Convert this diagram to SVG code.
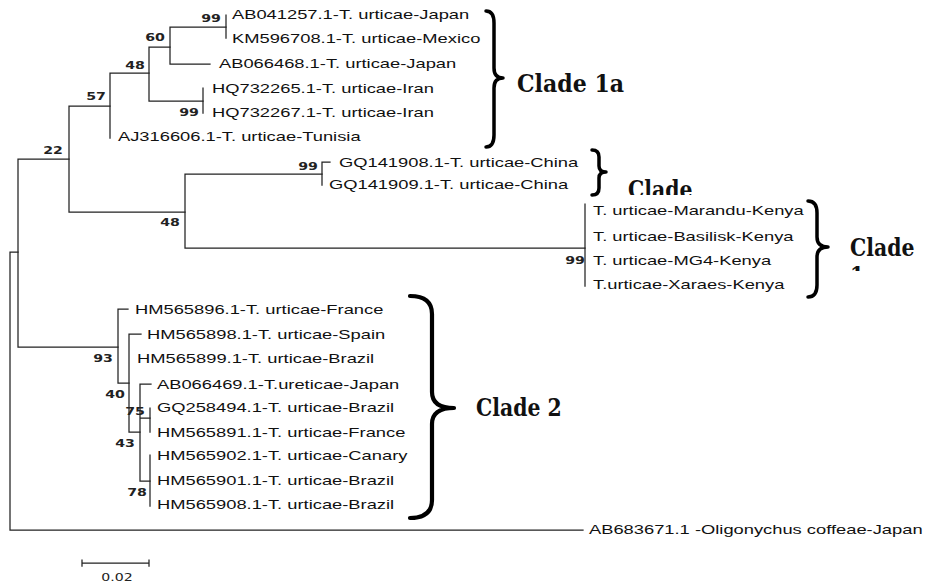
<svg xmlns="http://www.w3.org/2000/svg" width="937" height="583" viewBox="0 0 937 583">
  <style>
    .br { stroke: #222; stroke-width: 1.25; fill: none; stroke-linecap: square; }
    .lab { font-family: "Liberation Sans", Arial, sans-serif; font-size: 13px; fill: #111; }
    .bs { font-family: "DejaVu Sans", Verdana, sans-serif; font-size: 10.5px; font-weight: bold; fill: #222; text-anchor: middle; }
    .brace { stroke: #000; fill: none; stroke-linecap: round; stroke-linejoin: round; }
    .clade { font-family: "DejaVu Serif", "Liberation Serif", serif; font-size: 24px; font-weight: bold; fill: #111; }
    .scale { font-family: "DejaVu Sans", Verdana, sans-serif; font-size: 10px; fill: #222; text-anchor: middle; }
  </style>
  <defs>
    <clipPath id="cut1b"><rect x="600" y="150" width="140" height="45"/></clipPath>
    <clipPath id="cut1c"><rect x="840" y="200" width="97" height="71"/></clipPath>
  </defs>
  <rect width="937" height="583" fill="#fff"/>

  <!-- branches -->
  <g id="connectors" class="br">
    <!-- root and outgroup -->
    <path d="M10 252 V530 H583 M10 252 H18"/>
    <path d="M18 159 V347 M18 159 H69 M18 347 H118"/>
    <!-- clade 1 -->
    <path d="M69 106 V212 M69 106 H110 M69 212 H185"/>
    <path d="M110 73 V138 M110 73 H149"/>
    <path d="M149 47 V101 M149 47 H170 M149 101 H203"/>
    <path d="M170 27 V64 M170 27 H226 M170 64 H210"/>
    <path d="M226 15 V38"/>
    <path d="M203 88 V113"/>
    <path d="M185 174 V248 M185 174 H322 M185 248 H585"/>
    <path d="M322 162 V185 M322 162 H330"/>
    <path d="M585 204 V286"/>
    <!-- clade 2 -->
    <path d="M118 309 V383 M118 309 H128 M118 383 H129"/>
    <path d="M129 334 V432 M129 334 H141 M129 432 H140"/>
    <path d="M140 384 V481 M140 384 H151 M140 418 H150 M140 481 H150"/>
    <path d="M150 408 V432"/>
    <path d="M150 455 V506"/>
    <!-- scale bar -->
    <path d="M82 563 H149 M82 560 V566 M149 560 V566"/>
  </g>

  <!-- bootstrap support values -->
  <g id="support">
    <text class="bs" transform="translate(211 22) scale(1.35 1)">99</text>
    <text class="bs" transform="translate(155 41) scale(1.35 1)">60</text>
    <text class="bs" transform="translate(135 69) scale(1.35 1)">48</text>
    <text class="bs" transform="translate(96 100) scale(1.35 1)">57</text>
    <text class="bs" transform="translate(53 154) scale(1.35 1)">22</text>
    <text class="bs" transform="translate(189 116) scale(1.35 1)">99</text>
    <text class="bs" transform="translate(308 170) scale(1.35 1)">99</text>
    <text class="bs" transform="translate(170 226) scale(1.35 1)">48</text>
    <text class="bs" transform="translate(575 264) scale(1.35 1)">99</text>
    <text class="bs" transform="translate(103 362) scale(1.35 1)">93</text>
    <text class="bs" transform="translate(115 398) scale(1.35 1)">40</text>
    <text class="bs" transform="translate(135 415) scale(1.35 1)">75</text>
    <text class="bs" transform="translate(125 447) scale(1.35 1)">43</text>
    <text class="bs" transform="translate(137 496) scale(1.35 1)">78</text>
  </g>

  <!-- taxa -->
  <g id="leaf-AB041257"><text class="lab" transform="translate(232 18.5) scale(1.41 1)">AB041257.1-T. urticae-Japan</text></g>
  <g id="leaf-KM596708"><text class="lab" transform="translate(232 43) scale(1.41 1)">KM596708.1-T. urticae-Mexico</text></g>
  <g id="leaf-AB066468"><text class="lab" transform="translate(219 68) scale(1.41 1)">AB066468.1-T. urticae-Japan</text></g>
  <g id="leaf-HQ732265"><text class="lab" transform="translate(212 92.5) scale(1.41 1)">HQ732265.1-T. urticae-Iran</text></g>
  <g id="leaf-HQ732267"><text class="lab" transform="translate(212 117) scale(1.41 1)">HQ732267.1-T. urticae-Iran</text></g>
  <g id="leaf-AJ316606"><text class="lab" transform="translate(118 141) scale(1.41 1)">AJ316606.1-T. urticae-Tunisia</text></g>
  <g id="leaf-GQ141908"><text class="lab" transform="translate(339 166.5) scale(1.41 1)">GQ141908.1-T. urticae-China</text></g>
  <g id="leaf-GQ141909"><text class="lab" transform="translate(329 188.5) scale(1.41 1)">GQ141909.1-T. urticae-China</text></g>
  <g id="leaf-Marandu"><text class="lab" transform="translate(593 214.5) scale(1.41 1)">T. urticae-Marandu-Kenya</text></g>
  <g id="leaf-Basilisk"><text class="lab" transform="translate(593 240.5) scale(1.41 1)">T. urticae-Basilisk-Kenya</text></g>
  <g id="leaf-MG4"><text class="lab" transform="translate(593 264.5) scale(1.41 1)">T. urticae-MG4-Kenya</text></g>
  <g id="leaf-Xaraes"><text class="lab" transform="translate(593 288.5) scale(1.41 1)">T.urticae-Xaraes-Kenya</text></g>
  <g id="leaf-HM565896"><text class="lab" transform="translate(135 313.5) scale(1.41 1)">HM565896.1-T. urticae-France</text></g>
  <g id="leaf-HM565898"><text class="lab" transform="translate(147 338.5) scale(1.41 1)">HM565898.1-T. urticae-Spain</text></g>
  <g id="leaf-HM565899"><text class="lab" transform="translate(137 362.5) scale(1.41 1)">HM565899.1-T. urticae-Brazil</text></g>
  <g id="leaf-AB066469"><text class="lab" transform="translate(157 388.5) scale(1.41 1)">AB066469.1-T.ureticae-Japan</text></g>
  <g id="leaf-GQ258494"><text class="lab" transform="translate(157 411.5) scale(1.41 1)">GQ258494.1-T. urticae-Brazil</text></g>
  <g id="leaf-HM565891"><text class="lab" transform="translate(157 436.5) scale(1.41 1)">HM565891.1-T. urticae-France</text></g>
  <g id="leaf-HM565902"><text class="lab" transform="translate(157 459.5) scale(1.41 1)">HM565902.1-T. urticae-Canary</text></g>
  <g id="leaf-HM565901"><text class="lab" transform="translate(157 484.5) scale(1.41 1)">HM565901.1-T. urticae-Brazil</text></g>
  <g id="leaf-HM565908"><text class="lab" transform="translate(157 508.5) scale(1.41 1)">HM565908.1-T. urticae-Brazil</text></g>
  <g id="leaf-AB683671"><text class="lab" transform="translate(589 533.5) scale(1.41 1)">AB683671.1 -Oligonychus coffeae-Japan</text></g>

  <!-- clade braces and names -->
  <g id="clade-1a">
    <path class="brace" stroke-width="3.5" d="M486 11 Q494 11 494 23 L494 68 Q494 78 503 78 Q494 78 494 88 L494 135 Q494 147 486 147"/>
    <text class="clade" transform="translate(517 92) scale(0.92 1)">Clade 1a</text>
  </g>
  <g id="clade-1b">
    <path class="brace" stroke-width="3.5" d="M592 150 Q599 150 599 157 L599 166 Q599 172 606 172 Q599 172 599 178 L599 188 Q599 195 592 195"/>
    <g clip-path="url(#cut1b)">
      <text class="clade" transform="translate(628 198) scale(0.85 1)">Clade</text>
    </g>
  </g>
  <g id="clade-1c">
    <path class="brace" stroke-width="3.5" d="M808 201 Q817 201 817 213 L817 237 Q817 247 828 247 Q817 247 817 257 L817 285 Q817 297 808 297"/>
    <g clip-path="url(#cut1c)">
      <text class="clade" transform="translate(850 256) scale(0.85 1)">Clade</text>
      <text class="clade" transform="translate(850 284) scale(0.85 1)">1c</text>
    </g>
  </g>
  <g id="clade-2">
    <path class="brace" stroke-width="4.2" d="M410 296 Q432 296 432 314 L432 392 Q432 408 454 408 Q432 408 432 424 L432 500 Q432 518 410 518"/>
    <text class="clade" transform="translate(476 416) scale(0.85 1)">Clade 2</text>
  </g>

  <!-- scale label -->
  <g id="scale-label">
    <text class="scale" transform="translate(117 581) scale(1.41 1)">0.02</text>
  </g>
</svg>
